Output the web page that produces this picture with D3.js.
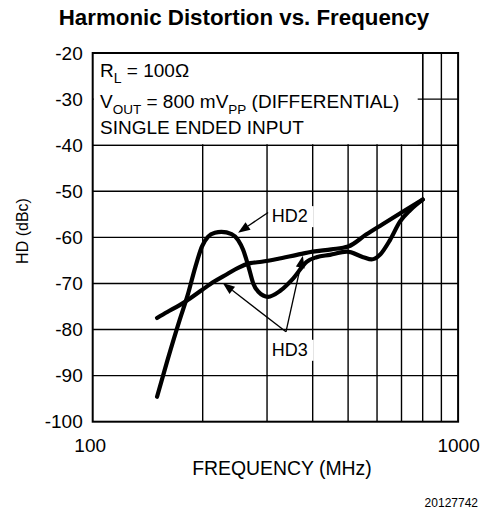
<!DOCTYPE html>
<html>
<head>
<meta charset="utf-8">
<script src="https://cdn.jsdelivr.net/npm/d3@7"></script>
<style>
  body { margin: 0; background: #fff; }
  text { font-family: "Liberation Sans", Arial, sans-serif; fill: #000; }
</style>
</head>
<body>
<div id="chart"></div>
<script>
// Curve data (frequency in MHz, distortion in dBc)
const hd2Freq = [150, 160, 173, 182, 191, 199, 207, 216, 225, 240, 250, 258, 267, 275, 284, 302, 326, 354, 385, 410, 446, 496, 550, 580, 611, 651, 693, 739, 800];
const hd2Val  = [-94.6, -86.8, -77.9, -72.5, -66.4, -62.0, -59.85, -59.0, -58.8, -59.3, -60.6, -62.7, -66.4, -70.0, -71.8, -72.9, -71.6, -68.9, -65.3, -64.3, -63.8, -63.1, -64.3, -64.8, -63.8, -60.6, -56.6, -54.1, -51.8];

const hd3Freq = [150, 160, 173, 185, 200, 215, 233, 250, 270, 290, 320, 362, 400, 450, 500, 560, 620, 700, 800];
const hd3Val  = [-77.5, -76.2, -74.7, -73.2, -71.3, -69.6, -68.0, -66.6, -65.6, -65.3, -64.7, -63.8, -63.1, -62.6, -62.0, -59.4, -57.2, -54.6, -51.8];

const xTicks = [100, 1000];
const yTicks = [-20, -30, -40, -50, -60, -70, -80, -90, -100];
const xGrid = [200, 300, 400, 500, 600, 700, 800, 900];
const yGrid = [-30, -40, -50, -60, -70, -80, -90];

// annotation anchors, in data units: [freq, dBc]
const hd2Label = [309, -56.7];
const hd2Arrow = [[302, -54.6], [250, -59.0]];
const hd3Label = [309, -85.7];
const hd3Vertex = [338, -80.5];
const hd3Tips = [[227, -69.9], [376, -64.0]];

const W = 486, H = 524;
const plotL = 92.7, plotR = 458.1, plotT = 53, plotB = 421.7;

const x = d3.scaleLog().domain([100, 1000]).range([plotL, plotR]);
const y = d3.scaleLinear().domain([-100, -20]).range([plotB, plotT]);

const svg = d3.select('#chart').append('svg')
  .attr('width', W)
  .attr('height', H);

// title
svg.append('text')
  .attr('x', 244).attr('y', 25)
  .attr('text-anchor', 'middle')
  .style('font-size', '22.3px')
  .style('font-weight', 'bold')
  .text('Harmonic Distortion vs. Frequency');

// grid
svg.append('g').selectAll('line')
  .data(xGrid)
  .enter().append('line')
  .attr('x1', d => x(d)).attr('x2', d => x(d))
  .attr('y1', plotT).attr('y2', plotB)
  .attr('stroke', '#000').attr('stroke-width', 1.4);

svg.append('g').selectAll('line')
  .data(yGrid)
  .enter().append('line')
  .attr('x1', plotL).attr('x2', plotR)
  .attr('y1', d => y(d)).attr('y2', d => y(d))
  .attr('stroke', '#000').attr('stroke-width', 1.4);

// conditions box (hides the grid in the top band)
svg.append('rect')
  .attr('x', x(100) + 1).attr('y', y(-20) + 1)
  .attr('width', x(800) - x(100) - 6)
  .attr('height', y(-40) - y(-20) - 2)
  .attr('fill', '#fff');
svg.append('line')
  .attr('x1', x(800)).attr('x2', x(800))
  .attr('y1', plotT).attr('y2', y(-40))
  .attr('stroke', '#000').attr('stroke-width', 1.4);

const box = svg.append('g').style('font-size', '19px');
const t1 = box.append('text').attr('x', 100).attr('y', 77);
t1.append('tspan').text('R');
t1.append('tspan').attr('dy', 6).style('font-size', '14px').text('L');
t1.append('tspan').attr('dy', -6).text(' = 100Ω');

const t2 = box.append('text').attr('x', 100).attr('y', 108);
t2.append('tspan').text('V');
t2.append('tspan').attr('dy', 6).style('font-size', '13.5px').text('OUT');
t2.append('tspan').attr('dy', -6).text(' = 800 mV');
t2.append('tspan').attr('dy', 6).style('font-size', '13.5px').text('PP');
t2.append('tspan').attr('dy', -6).text(' (DIFFERENTIAL)');

box.append('text').attr('x', 100).attr('y', 134).text('SINGLE ENDED INPUT');

// curves
const line = d3.line()
  .x(d => x(d[0]))
  .y(d => y(d[1]))
  .curve(d3.curveMonotoneX);

svg.append('path')
  .datum(d3.zip(hd3Freq, hd3Val))
  .attr('d', line)
  .attr('fill', 'none').attr('stroke', '#000')
  .attr('stroke-width', 4.2).attr('stroke-linecap', 'round').attr('stroke-linejoin', 'round');

svg.append('path')
  .datum(d3.zip(hd2Freq, hd2Val))
  .attr('d', line)
  .attr('fill', 'none').attr('stroke', '#000')
  .attr('stroke-width', 4.2).attr('stroke-linecap', 'round').attr('stroke-linejoin', 'round');

// labels with white backing
function label(pos, txt) {
  const g = svg.append('g');
  g.append('rect')
    .attr('x', x(pos[0]) - 3).attr('y', y(pos[1]) - 16)
    .attr('width', 45).attr('height', 21)
    .attr('fill', '#fff');
  g.append('text')
    .attr('x', x(pos[0])).attr('y', y(pos[1]))
    .style('font-size', '18px')
    .text(txt);
}

function arrow(from, to) {
  const x0 = x(from[0]), y0 = y(from[1]), x1 = x(to[0]), y1 = y(to[1]);
  const a = Math.atan2(y1 - y0, x1 - x0);
  const len = 12, half = 4.5;
  const bx = x1 - len * Math.cos(a), by = y1 - len * Math.sin(a);
  svg.append('line')
    .attr('x1', x0).attr('y1', y0).attr('x2', bx).attr('y2', by)
    .attr('stroke', '#000').attr('stroke-width', 1.3);
  svg.append('path')
    .attr('d', `M${x1},${y1}L${bx - half * Math.sin(a)},${by + half * Math.cos(a)}L${bx + half * Math.sin(a)},${by - half * Math.cos(a)}Z`)
    .attr('fill', '#000');
}

label(hd2Label, 'HD2');
arrow(hd2Arrow[0], hd2Arrow[1]);
label(hd3Label, 'HD3');
hd3Tips.forEach(t => arrow(hd3Vertex, t));

// frame
svg.append('rect')
  .attr('x', plotL).attr('y', plotT)
  .attr('width', plotR - plotL).attr('height', plotB - plotT)
  .attr('fill', 'none').attr('stroke', '#000').attr('stroke-width', 2);

// axes (labels only)
const yAxis = svg.append('g')
  .attr('transform', `translate(${plotL},0)`)
  .call(d3.axisLeft(y).tickValues(yTicks).tickSize(0).tickPadding(10).tickFormat(d => String(d)));
yAxis.select('.domain').remove();
yAxis.selectAll('text').style('font-size', '19px').style('font-family', '"Liberation Sans", Arial, sans-serif');

const xAxis = svg.append('g')
  .attr('transform', `translate(0,${plotB})`)
  .call(d3.axisBottom(x).tickValues(xTicks).tickSize(0).tickPadding(16.5).tickFormat(d => String(d)));
xAxis.select('.domain').remove();
xAxis.selectAll('text').style('font-size', '19px').style('font-family', '"Liberation Sans", Arial, sans-serif');
xAxis.selectAll('.tick').filter(d => d === 100).select('text').attr('x', -3);

svg.append('text')
  .attr('x', 282).attr('y', 475)
  .attr('text-anchor', 'middle')
  .style('font-size', '19.4px')
  .text('FREQUENCY (MHz)');

svg.append('text')
  .attr('transform', 'translate(28,231) rotate(-90)')
  .attr('text-anchor', 'middle')
  .style('font-size', '16px')
  .text('HD (dBc)');

svg.append('text')
  .attr('x', 478).attr('y', 507)
  .attr('text-anchor', 'end')
  .style('font-size', '12px')
  .text('20127742');
</script>
</body>
</html>
